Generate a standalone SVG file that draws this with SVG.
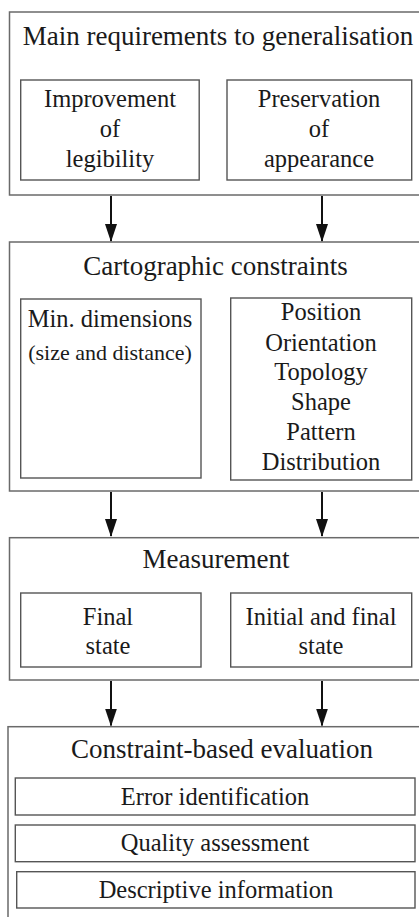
<svg xmlns="http://www.w3.org/2000/svg" width="419" height="917" viewBox="0 0 419 917">
<defs>
<style>
.box{fill:#fff;stroke:#6a6a6a;stroke-width:1.5}
.ibox{fill:#fff;stroke:#555;stroke-width:1.4}
text{font-family:'Liberation Serif','Times New Roman','DejaVu Serif',serif;fill:#1a1a1a;text-anchor:middle}
.h{font-size:27px}
.b{font-size:24.5px}
.s{font-size:22px}
.c{stroke:#111;stroke-width:2;fill:none}
</style>
<marker id="ah" markerWidth="18" markerHeight="12" refX="17" refY="6" orient="auto" markerUnits="userSpaceOnUse" viewBox="0 0 18 12">
<path d="M0,0 L18,6 L0,12 Z" fill="#111"/>
</marker>
</defs>
<rect width="419" height="917" fill="#fff"/>

<g id="n-main">
<rect class="box" x="9.5" y="12" width="420" height="183"/>
<text class="h" x="218" y="45">Main requirements to generalisation</text>
</g>
<g id="n-legibility">
<rect class="ibox" x="20.7" y="80" width="178.5" height="100"/>
<text class="b" x="110" y="107">Improvement</text>
<text class="b" x="110" y="137">of</text>
<text class="b" x="110" y="167">legibility</text>
</g>
<g id="n-appearance">
<rect class="ibox" x="227" y="80" width="184.7" height="100"/>
<text class="b" x="319" y="107">Preservation</text>
<text class="b" x="319" y="137">of</text>
<text class="b" x="319" y="167">appearance</text>
</g>

<g id="n-constraints">
<rect class="box" x="9.5" y="242" width="420" height="249"/>
<text class="h" x="215.5" y="275">Cartographic constraints</text>
</g>
<g id="n-mindim">
<rect class="ibox" x="20.7" y="299" width="180.3" height="179"/>
<text class="b" x="110" y="327">Min. dimensions</text>
<text class="s" x="110" y="360">(size and distance)</text>
</g>
<g id="n-other">
<rect class="ibox" x="230.7" y="298" width="181" height="182"/>
<text class="b" x="321" y="320">Position</text>
<text class="b" x="321" y="351">Orientation</text>
<text class="b" x="321" y="380">Topology</text>
<text class="b" x="321" y="410">Shape</text>
<text class="b" x="321" y="440">Pattern</text>
<text class="b" x="321" y="470">Distribution</text>
</g>

<g id="n-measurement">
<rect class="box" x="9.5" y="537.7" width="420" height="142.3"/>
<text class="h" x="216" y="568">Measurement</text>
</g>
<g id="n-final">
<rect class="ibox" x="20.7" y="593" width="180.3" height="74"/>
<text class="b" x="108" y="625">Final</text>
<text class="b" x="108" y="654">state</text>
</g>
<g id="n-initfinal">
<rect class="ibox" x="230.7" y="593" width="181" height="74"/>
<text class="b" x="321" y="625">Initial and final</text>
<text class="b" x="321" y="654">state</text>
</g>

<g id="n-evaluation">
<rect class="box" x="8" y="726.7" width="422" height="200"/>
<text class="h" x="222" y="758">Constraint-based evaluation</text>
</g>
<g id="n-error">
<rect class="ibox" x="15.3" y="778" width="399.7" height="37"/>
<text class="b" x="215" y="805">Error identification</text>
</g>
<g id="n-quality">
<rect class="ibox" x="15.3" y="825" width="399.7" height="36.7"/>
<text class="b" x="215" y="851">Quality assessment</text>
</g>
<g id="n-descriptive">
<rect class="ibox" x="16.7" y="871.7" width="398.3" height="36.3"/>
<text class="b" x="216" y="898">Descriptive information</text>
</g>

<g id="connectors">
<line class="c" x1="111" y1="196" x2="111" y2="241" marker-end="url(#ah)"/>
<line class="c" x1="322" y1="196" x2="322" y2="241" marker-end="url(#ah)"/>
<line class="c" x1="111" y1="492" x2="111" y2="536" marker-end="url(#ah)"/>
<line class="c" x1="322" y1="492" x2="322" y2="536" marker-end="url(#ah)"/>
<line class="c" x1="111" y1="681" x2="111" y2="725.5" marker-end="url(#ah)"/>
<line class="c" x1="322" y1="681" x2="322" y2="725.5" marker-end="url(#ah)"/>
</g>
</svg>
